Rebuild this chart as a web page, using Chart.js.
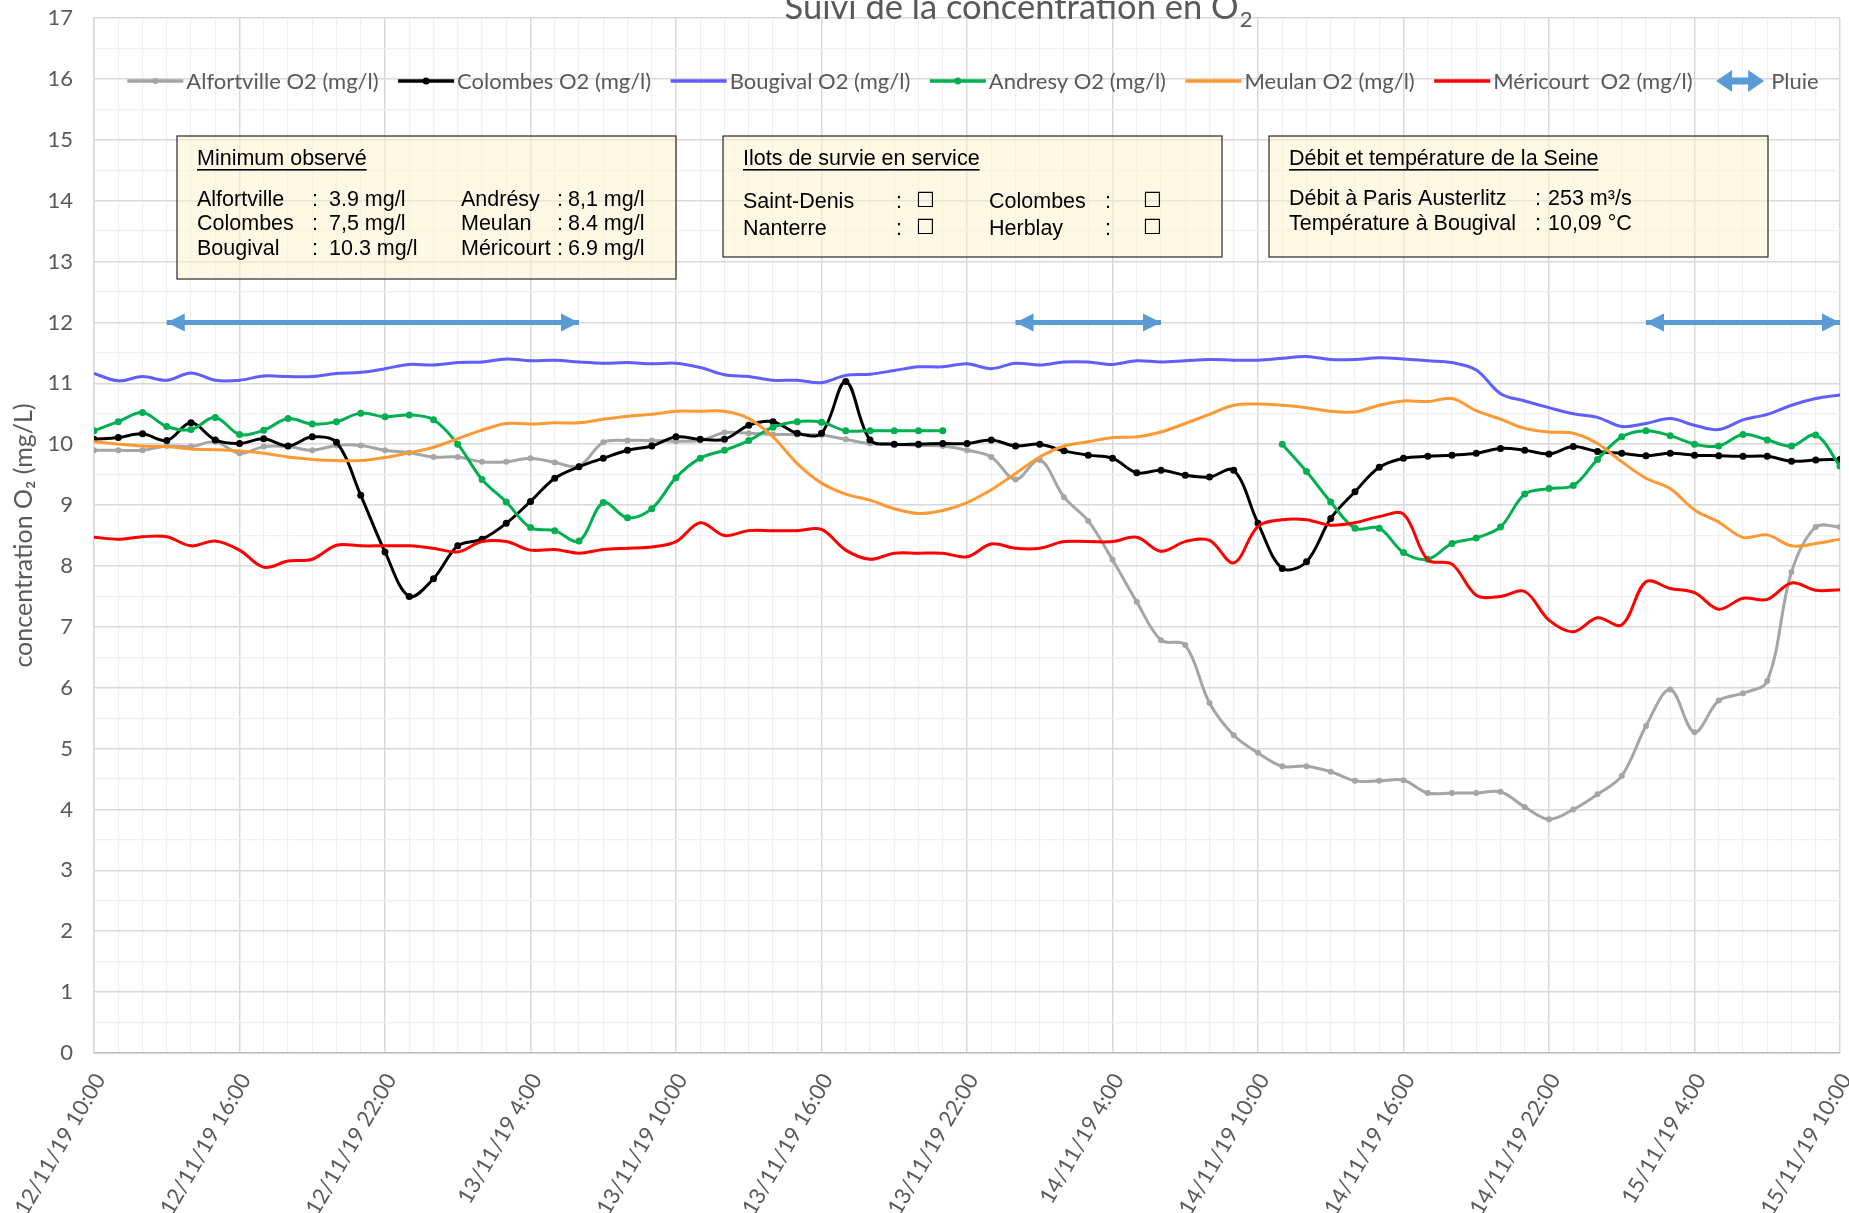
<!DOCTYPE html>
<html>
<head>
<meta charset="utf-8">
<title>Suivi de la concentration en O2</title>
<script src="https://cdn.jsdelivr.net/npm/chart.js@4.4.1/dist/chart.umd.min.js"></script>
<style>
  html, body { margin: 0; padding: 0; background: #fff; }
  #chart { display: block; }
</style>
</head>
<body>
<canvas id="chart" width="1849" height="1213"></canvas>
<script>
// axe des temps : une mesure par heure, de 12/11/19 10:00 à 15/11/19 10:00
const tickLabels = ['12/11/19 10:00', '12/11/19 16:00', '12/11/19 22:00', '13/11/19 4:00',
  '13/11/19 10:00', '13/11/19 16:00', '13/11/19 22:00', '14/11/19 4:00', '14/11/19 10:00',
  '14/11/19 16:00', '14/11/19 22:00', '15/11/19 4:00', '15/11/19 10:00'];

const alfortville = [
  9.90, 9.90, 9.90, 9.97, 9.96, 10.04, 9.85, 9.96, 9.96, 9.90,
  9.98, 9.98, 9.90, 9.86, 9.79, 9.79, 9.71, 9.71, 9.77, 9.70,
  9.64, 10.03, 10.06, 10.06, 10.05, 10.06, 10.19, 10.18, 10.16, 10.16,
  10.15, 10.08, 10.01, 10.00, 9.98, 9.97, 9.90, 9.79, 9.42, 9.74,
  9.13, 8.74, 8.10, 7.41, 6.78, 6.70, 5.75, 5.22, 4.93, 4.71,
  4.71, 4.62, 4.47, 4.47, 4.48, 4.27, 4.27, 4.27, 4.29, 4.04,
  3.84, 4.00, 4.25, 4.55, 5.37, 5.97, 5.27, 5.79, 5.91, 6.11,
  7.90, 8.64, 8.64
];
const colombes = [
  10.08, 10.11, 10.17, 10.06, 10.35, 10.07, 10.01, 10.09, 9.97, 10.12,
  10.03, 9.16, 8.23, 7.50, 7.79, 8.33, 8.44, 8.70, 9.06, 9.44,
  9.63, 9.77, 9.90, 9.97, 10.12, 10.08, 10.08, 10.31, 10.37, 10.18,
  10.18, 11.03, 10.07, 10.00, 10.00, 10.01, 10.01, 10.07, 9.97, 10.00,
  9.89, 9.82, 9.77, 9.53, 9.57, 9.49, 9.46, 9.57, 8.70, 7.96,
  8.07, 8.78, 9.22, 9.62, 9.77, 9.80, 9.82, 9.85, 9.93, 9.90,
  9.84, 9.96, 9.88, 9.85, 9.81, 9.85, 9.82, 9.81, 9.80, 9.80,
  9.72, 9.74, 9.75
];
const bougival = [
  11.16, 11.04, 11.11, 11.05, 11.17, 11.05, 11.05, 11.12, 11.11, 11.11,
  11.16, 11.18, 11.24, 11.31, 11.30, 11.34, 11.35, 11.40, 11.37, 11.38,
  11.35, 11.33, 11.34, 11.32, 11.33, 11.26, 11.14, 11.11, 11.05, 11.05,
  11.01, 11.13, 11.15, 11.21, 11.27, 11.27, 11.32, 11.24, 11.33, 11.30,
  11.35, 11.35, 11.31, 11.37, 11.35, 11.37, 11.39, 11.38, 11.38, 11.41,
  11.44, 11.39, 11.39, 11.42, 11.40, 11.37, 11.34, 11.22, 10.83, 10.71,
  10.60, 10.50, 10.44, 10.29, 10.34, 10.42, 10.31, 10.24, 10.40, 10.49,
  10.64, 10.75, 10.81
];
const andresy = [
  10.22, 10.37, 10.52, 10.29, 10.24, 10.44, 10.16, 10.23, 10.42, 10.33,
  10.37, 10.51, 10.45, 10.48, 10.40, 10.00, 9.42, 9.05, 8.63, 8.58,
  8.41, 9.04, 8.79, 8.94, 9.45, 9.77, 9.90, 10.06, 10.28, 10.37,
  10.36, 10.22, 10.22, 10.22, 10.22, 10.22, null, null, null, null,
  null, null, null, null, null, null, null, null, null, 10.00,
  9.55, 9.05, 8.62, 8.62, 8.22, 8.11, 8.37, 8.46, 8.64, 9.18,
  9.27, 9.32, 9.75, 10.12, 10.22, 10.14, 10.00, 9.97, 10.16, 10.07,
  9.97, 10.15, 9.64
];
const meulan = [
  10.04, 10.00, 9.97, 9.96, 9.92, 9.91, 9.89, 9.85, 9.79, 9.75,
  9.73, 9.73, 9.78, 9.86, 9.95, 10.09, 10.23, 10.34, 10.33, 10.35,
  10.35, 10.41, 10.46, 10.49, 10.54, 10.54, 10.54, 10.42, 10.12, 9.68,
  9.36, 9.18, 9.08, 8.94, 8.86, 8.91, 9.04, 9.25, 9.52, 9.79,
  9.97, 10.04, 10.11, 10.12, 10.20, 10.34, 10.49, 10.64, 10.66, 10.64,
  10.60, 10.54, 10.53, 10.64, 10.71, 10.70, 10.75, 10.55, 10.41, 10.26,
  10.20, 10.18, 10.01, 9.71, 9.44, 9.27, 8.92, 8.72, 8.47, 8.51,
  8.33, 8.37, 8.44
];
const mericourt = [
  8.47, 8.44, 8.48, 8.48, 8.33, 8.41, 8.26, 7.98, 8.08, 8.11,
  8.34, 8.33, 8.33, 8.33, 8.29, 8.23, 8.40, 8.40, 8.26, 8.27,
  8.21, 8.27, 8.29, 8.31, 8.40, 8.71, 8.50, 8.58, 8.58, 8.58,
  8.60, 8.26, 8.11, 8.21, 8.21, 8.21, 8.15, 8.36, 8.29, 8.29,
  8.40, 8.40, 8.40, 8.47, 8.24, 8.40, 8.42, 8.05, 8.65, 8.76,
  8.76, 8.67, 8.71, 8.81, 8.85, 8.10, 8.03, 7.52, 7.50, 7.58,
  7.11, 6.92, 7.15, 7.03, 7.74, 7.63, 7.56, 7.29, 7.47, 7.45,
  7.72, 7.60, 7.61
];

// épisodes de pluie (heures de début et de fin) tracés à 12 mg/l
const rainPeriods = [[3, 20], [38, 44], [64, 72]];
const rainLevel = 12;

// encadrés
const minimumRows = [
  ['Alfortville', '3.9 mg/l', 'Andrésy', '8,1 mg/l'],
  ['Colombes', '7,5 mg/l', 'Meulan', '8.4 mg/l'],
  ['Bougival', '10.3 mg/l', 'Méricourt', '6.9 mg/l']
];
const ilotsRows = [
  ['Saint-Denis', 'Colombes'],
  ['Nanterre', 'Herblay']
];
const seineRows = [
  ['Débit à Paris Austerlitz', '253 m³/s'],
  ['Température à Bougival', '10,09 °C']
];

const GREY_TEXT = '#595959';
const XL_FONT = 'Lato, "Open Sans", sans-serif';
const BOX_FONT = '"Liberation Sans", Arial, sans-serif';

const toPoints = arr => arr.map((v, i) => ({ x: i, y: v }));
const rainSeries = alfortville.map((_, i) =>
  rainPeriods.some(([a, b]) => i >= a && i <= b) ? rainLevel : null);

function serie(label, values, color, radius, order) {
  return {
    label,
    data: toPoints(values),
    borderColor: color,
    backgroundColor: color,
    borderWidth: 3,
    pointRadius: radius,
    pointBorderWidth: 0,
    pointBackgroundColor: color,
    tension: 0.35,
    spanGaps: false,
    order,
    markerRadius: radius
  };
}

const datasets = [
  serie('Alfortville O2 (mg/l)', alfortville, '#A5A5A5', 3, 7),
  serie('Colombes O2 (mg/l)', colombes, '#000000', 3.5, 6),
  serie('Bougival O2 (mg/l)', bougival, '#5F5FFF', 1.2, 5),
  serie('Andresy O2 (mg/l)', andresy, '#00B050', 3.5, 4),
  serie('Meulan O2 (mg/l)', meulan, '#FF9933', 1.2, 3),
  serie('Méricourt  O2 (mg/l)', mericourt, '#FF0000', 1.2, 2),
  {
    label: 'Pluie',
    data: toPoints(rainSeries),
    borderColor: '#5B9BD5',
    backgroundColor: '#5B9BD5',
    borderWidth: 5,
    pointRadius: 0,
    tension: 0,
    spanGaps: false,
    order: 1,
    isRain: true
  }
];

function arrowHead(ctx, tipX, y, dir, len, half) {
  ctx.beginPath();
  ctx.moveTo(tipX, y);
  ctx.lineTo(tipX - dir * len, y - half);
  ctx.lineTo(tipX - dir * len, y + half);
  ctx.closePath();
  ctx.fill();
}

function drawBox(ctx, x, y, w, h) {
  ctx.save();
  ctx.fillStyle = 'rgba(255, 242, 204, 0.5)';
  ctx.fillRect(x, y, w, h);
  ctx.strokeStyle = '#3A3A3A';
  ctx.lineWidth = 1.3;
  ctx.strokeRect(x, y, w, h);
  ctx.restore();
}

function underlinedText(ctx, text, x, y) {
  ctx.fillText(text, x, y);
  const w = ctx.measureText(text).width;
  ctx.fillRect(x, y + 10, w, 1.6);
}

const overlay = {
  id: 'overlay',
  afterDatasetsDraw(chart) {
    const { ctx, scales: { x, y } } = chart;
    ctx.save();
    ctx.fillStyle = '#5B9BD5';
    const py = y.getPixelForValue(rainLevel);
    rainPeriods.forEach(([a, b]) => {
      arrowHead(ctx, x.getPixelForValue(a), py, -1, 18, 9);
      arrowHead(ctx, x.getPixelForValue(b), py, 1, 18, 9);
    });
    ctx.restore();
  },
  afterDraw(chart) {
    const { ctx, chartArea } = chart;
    ctx.save();

    // titre (coupé en haut comme sur l'original)
    ctx.fillStyle = GREY_TEXT;
    ctx.textBaseline = 'alphabetic';
    ctx.textAlign = 'left';
    const main = 'Suivi de la concentration en O';
    ctx.font = '34.5px ' + XL_FONT;
    const wMain = ctx.measureText(main).width;
    ctx.font = '22px ' + XL_FONT;
    const wSub = ctx.measureText('2').width;
    const tx = 1018 - (wMain + wSub) / 2;
    ctx.font = '34.5px ' + XL_FONT;
    ctx.fillText(main, tx, 19);
    ctx.font = '22px ' + XL_FONT;
    ctx.fillText('2', tx + wMain + 1, 27);

    // légende
    ctx.font = '22px ' + XL_FONT;
    ctx.textBaseline = 'middle';
    const ly = 81;
    const sample = 56, gapText = 3, gapItem = 19.5;
    const items = chart.data.datasets.map(ds => ({ ds, w: sample + gapText + ctx.measureText(ds.label).width }));
    const total = items.reduce((s, it) => s + it.w, 0) + gapItem * (items.length - 1);
    let lx = (chartArea.left + chartArea.right) / 2 + 6 - total / 2;
    items.forEach(({ ds, w }) => {
      if (ds.isRain) {
        ctx.fillStyle = ds.borderColor;
        ctx.fillRect(lx + 10, ly - 3.5, sample - 20, 7);
        arrowHead(ctx, lx + 4, ly, -1, 16, 11);
        arrowHead(ctx, lx + sample - 4, ly, 1, 16, 11);
      } else {
        ctx.strokeStyle = ds.borderColor;
        ctx.lineWidth = 3.5;
        ctx.beginPath();
        ctx.moveTo(lx, ly);
        ctx.lineTo(lx + sample, ly);
        ctx.stroke();
        ctx.fillStyle = ds.borderColor;
        ctx.beginPath();
        ctx.arc(lx + sample / 2, ly, ds.markerRadius, 0, Math.PI * 2);
        ctx.fill();
      }
      ctx.fillStyle = GREY_TEXT;
      ctx.fillText(ds.label, lx + sample + gapText, ly + 1);
      lx += w + gapItem;
    });

    // encadrés
    ctx.font = '21.5px ' + BOX_FONT;
    ctx.textBaseline = 'middle';

    drawBox(ctx, 177, 136, 499, 143);
    ctx.fillStyle = '#000';
    underlinedText(ctx, 'Minimum observé', 197, 159);
    minimumRows.forEach((row, i) => {
      const ry = 200 + i * 24.5;
      ctx.fillText(row[0], 197, ry);
      ctx.fillText(':', 312, ry);
      ctx.fillText(row[1], 329, ry);
      ctx.fillText(row[2], 461, ry);
      ctx.fillText(':', 557, ry);
      ctx.fillText(row[3], 568, ry);
    });

    drawBox(ctx, 723, 136, 499, 121);
    ctx.fillStyle = '#000';
    underlinedText(ctx, 'Ilots de survie en service', 743, 159);
    ilotsRows.forEach((row, i) => {
      const ry = 202 + i * 27;
      ctx.font = '21.5px ' + BOX_FONT;
      ctx.fillText(row[0], 743, ry);
      ctx.fillText(':', 896, ry);
      ctx.fillText(row[1], 989, ry);
      ctx.fillText(':', 1105, ry);
      ctx.font = '21px "DejaVu Sans"';
      ctx.fillText('☐', 916, ry);
      ctx.fillText('☐', 1143, ry);
    });

    drawBox(ctx, 1269, 136, 499, 121);
    ctx.fillStyle = '#000';
    ctx.font = '21.5px ' + BOX_FONT;
    underlinedText(ctx, 'Débit et température de la Seine', 1289, 159);
    seineRows.forEach((row, i) => {
      const ry = 199 + i * 25;
      ctx.fillText(row[0], 1289, ry);
      ctx.fillText(':', 1535, ry);
      ctx.fillText(row[1], 1548, ry);
    });

    ctx.restore();
  }
};

new Chart(document.getElementById('chart'), {
  type: 'line',
  data: { datasets },
  options: {
    responsive: false,
    devicePixelRatio: 1,
    animation: false,
    events: [],
    layout: { padding: { top: 18, right: 9, left: 0, bottom: 0 } },
    plugins: {
      legend: { display: false },
      title: { display: false },
      tooltip: { enabled: false }
    },
    scales: {
      x: {
        type: 'linear',
        min: 0,
        max: 72,
        afterFit(scale) {
          scale.height = 160;
          scale.paddingLeft = 0;
          scale.paddingRight = 0;
        },
        border: { color: '#BFBFBF', width: 1.5 },
        grid: {
          drawTicks: false,
          color: c => (c.tick && c.tick.value % 6 === 0) ? '#D9D9D9' : '#F0F0F0',
          lineWidth: c => (c.tick && c.tick.value % 6 === 0) ? 1.5 : 1.2
        },
        ticks: {
          stepSize: 1,
          maxTicksLimit: 200,
          autoSkip: false,
          minRotation: 60,
          maxRotation: 60,
          padding: 16,
          labelOffset: 6,
          color: GREY_TEXT,
          font: { family: XL_FONT, size: 22 },
          callback: v => (v % 6 === 0) ? tickLabels[v / 6] : ''
        }
      },
      y: {
        min: 0,
        max: 17,
        afterFit(scale) {
          scale.width = 94;
          scale.paddingTop = 0;
          scale.paddingBottom = 0;
        },
        border: { color: '#D9D9D9', width: 1.5 },
        grid: {
          drawTicks: false,
          color: c => (c.tick && Number.isInteger(c.tick.value)) ? '#D9D9D9' : '#F0F0F0',
          lineWidth: c => (c.tick && Number.isInteger(c.tick.value)) ? 1.5 : 1.2
        },
        ticks: {
          stepSize: 0.5,
          maxTicksLimit: 200,
          autoSkip: false,
          padding: 21,
          color: GREY_TEXT,
          font: { family: XL_FONT, size: 22 },
          callback: v => Number.isInteger(v) ? String(v) : ''
        },
        title: {
          display: true,
          text: 'concentration O₂ (mg/L)',
          color: GREY_TEXT,
          font: { family: XL_FONT, size: 25 },
          padding: { top: 9, bottom: 0 }
        }
      }
    }
  },
  plugins: [overlay]
});
</script>
</body>
</html>
